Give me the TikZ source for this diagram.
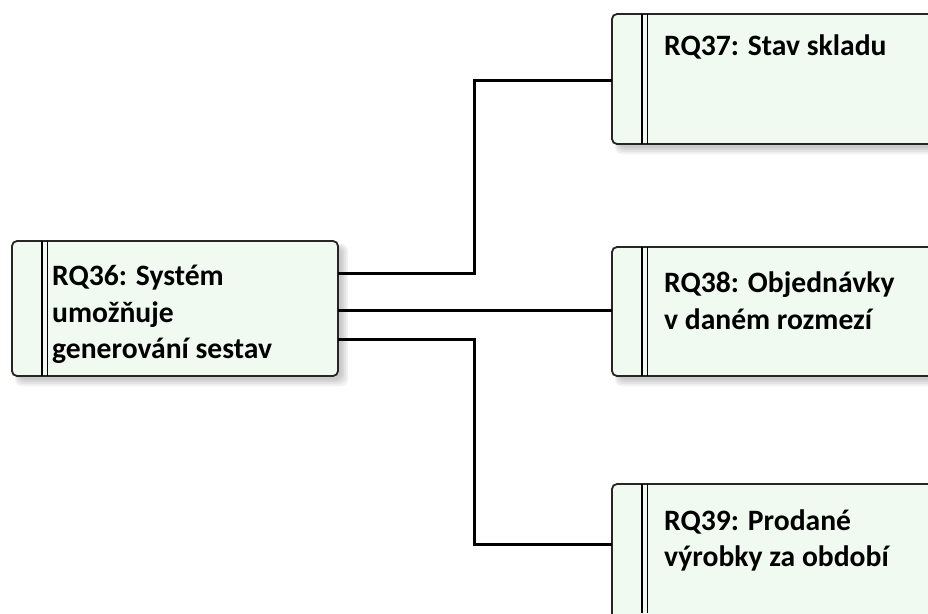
\documentclass[tikz,border=0pt]{standalone}
\usepackage{fontspec}
\setmainfont{Carlito}
\begin{document}
\begin{tikzpicture}[x=1pt,y=-1pt,
  req/.style={draw=black!85,line width=1.8pt,fill=reqfill,rounded corners=5pt},
  shade1/.style={fill=black,opacity=0.055,rounded corners=7pt},
  bar/.style={draw=black,line width=1.5pt},
  conn/.style={draw=black,line width=3pt},
  lbl/.style={anchor=base west,font=\fontsize{29.6}{37}\selectfont\bfseries,inner sep=0pt}
]
\definecolor{reqfill}{HTML}{F0FAF0}
\useasboundingbox (0,0) rectangle (928,613);
\begin{scope}
\clip (0,0) rectangle (928,613);
% shadows
\foreach \xa/\ya/\xb/\yb in {12/241/338/376, 612/14/960/144, 612/247/960/376, 612/484/960/640}{
  \fill[shade1] (\xa+3,\ya+3) rectangle (\xb+10,\yb+10);
  \fill[shade1] (\xa+4,\ya+4) rectangle (\xb+8,\yb+8);
  \fill[shade1] (\xa+5,\ya+5) rectangle (\xb+6,\yb+6);
  \fill[shade1] (\xa+6,\ya+6) rectangle (\xb+4,\yb+4);
}
% boxes
\path[req] (12,241) rectangle (338,376);
\path[req] (612,14) rectangle (960,144);
\path[req] (612,247) rectangle (960,376);
\path[req] (612,484) rectangle (960,640);
\draw[bar] (42,241) -- (42,376) (47.5,241) -- (47.5,376);
\draw[bar] (642,14) -- (642,144) (647.5,14) -- (647.5,144);
\draw[bar] (642,247) -- (642,376) (647.5,247) -- (647.5,376);
\draw[bar] (642,484) -- (642,613) (647.5,484) -- (647.5,613);
\end{scope}
\coordinate (a1) at (338,273);
\coordinate (a2) at (338,310);
\coordinate (a3) at (338,339);
\coordinate (b1) at (612,80);
\coordinate (b2) at (612,310);
\coordinate (b3) at (612,544);
\draw[conn] (a1) -| (474,80) -- (b1);
\draw[conn] (a2) -- (b2);
\draw[conn] (a3) -| (474,544) -- (b3);
\node[lbl] (t36a) at (52,285) {RQ36: Systém};
\node[lbl] (t36b) at (52,322) {umožňuje};
\node[lbl] (t36c) at (52,358.5) {generování sestav};
\node[lbl] (t37) at (664,55) {RQ37: Stav skladu};
\node[lbl] (t38a) at (664,292) {RQ38: Objednávky};
\node[lbl] (t38b) at (664,329) {v daném rozmezí};
\node[lbl] (t39a) at (664,530) {RQ39: Prodané};
\node[lbl] (t39b) at (664,566.5) {výrobky za období};
\end{tikzpicture}
\end{document}
